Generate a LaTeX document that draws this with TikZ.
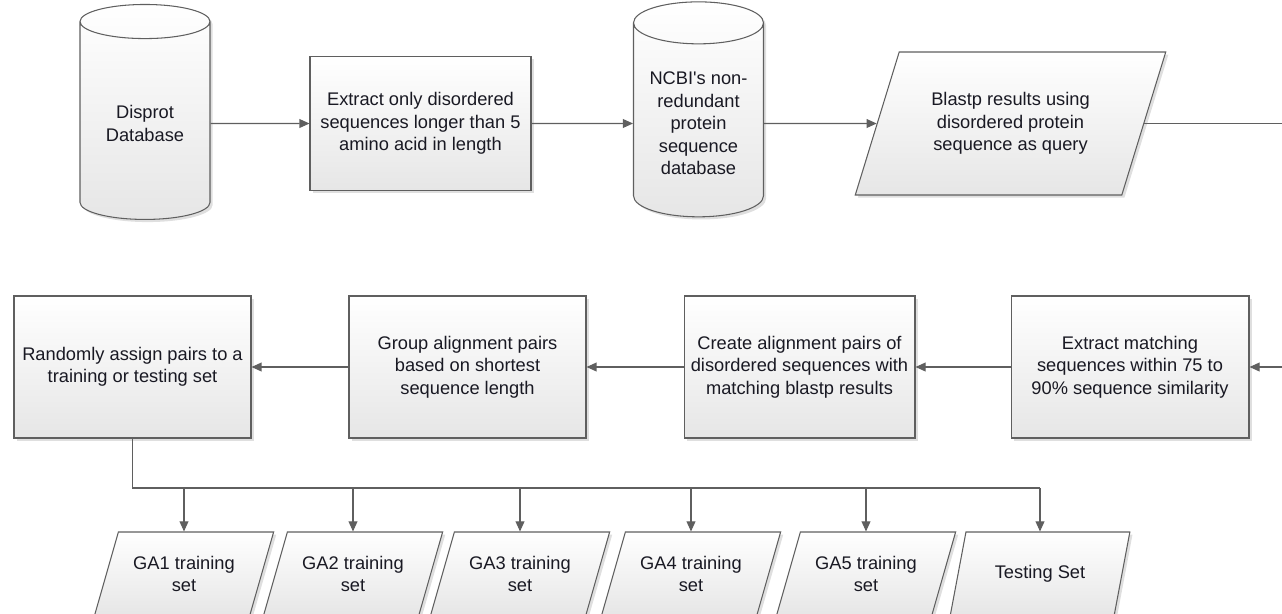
\documentclass[tikz,border=0pt]{standalone}
\usepackage{xcolor}
\usepackage{tikz}
\usepackage{fontspec}
\setmainfont{Liberation Sans}
\usetikzlibrary{shapes.geometric, arrows.meta, positioning, shadows}
\definecolor{edgegray}{RGB}{95, 95, 95}
\definecolor{fillgray}{RGB}{230, 230, 230}
\definecolor{inkdark}{RGB}{25, 25, 35}

\begin{document}
\begin{tikzpicture}[
    x=0.02cm, y=-0.02cm,
    every node/.style={font=\fontsize{10.4}{12.8}\selectfont, text=inkdark, align=center},
    process/.style={rectangle, draw=edgegray, line width=0.6pt, top color=white, bottom color=fillgray, drop shadow={shadow xshift=1.5pt, shadow yshift=-1.5pt, opacity=0.25}, minimum height=2.84cm, inner sep=2pt},
    database/.style={cylinder, shape border rotate=90, aspect=0.4, draw=edgegray, line width=0.6pt, top color=white, bottom color=fillgray, drop shadow={shadow xshift=1.5pt, shadow yshift=-1.5pt, opacity=0.25}, minimum width=2.6cm, minimum height=4.3cm, inner sep=2pt},
    dataio/.style={trapezium, trapezium left angle=64, trapezium right angle=116, trapezium stretches=true, draw=edgegray, line width=0.6pt, top color=white, bottom color=fillgray, drop shadow={shadow xshift=1.5pt, shadow yshift=-1.5pt, opacity=0.25}, inner sep=1pt},
    flow/.style={draw=edgegray, line width=0.6pt, -{Triangle[length=5.7pt, width=5pt]}},
    joinline/.style={draw=edgegray, line width=0.6pt}
]
    \clip (0, 0) rectangle (1282, 613);

    % Top row
    \node[database] (disprot) at (145, 123.5) {Disprot\\Database};
    \node[process, minimum width=4.42cm, minimum height=2.68cm] (extract) at (420.5, 123.5) {Extract only disordered\\sequences longer than 5\\amino acid in length};
    \node[database] (ncbi) at (698.5, 123.5) {NCBI\textquotesingle s non-\\redundant\\protein\\sequence\\database};
    \node[dataio, minimum width=6.22cm, minimum height=2.86cm] (blastp) at (1010.5, 123.5) {Blastp results using\\disordered protein\\sequence as query};
    \coordinate (toprightedge) at (1282, 123.5);

    % Second row, right to left
    \node[process, minimum width=4.76cm] (extractmatch) at (1130, 367) {Extract matching\\sequences within 75 to\\90\% sequence similarity};
    \node[process, minimum width=4.62cm] (pairs) at (799.5, 367) {Create alignment pairs of\\disordered sequences with\\matching blastp results};
    \node[process, minimum width=4.74cm] (group) at (467.5, 367) {Group alignment pairs\\based on shortest\\sequence length};
    \node[process, minimum width=4.74cm] (assign) at (132.5, 367) {Randomly assign pairs to a\\training or testing set};
    \coordinate (midrightedge) at (1282, 367);

    % Output sets
    \node[dataio, minimum width=3.6cm, minimum height=1.68cm] (ga1) at (184, 574) {GA1 training\\set};
    \node[dataio, minimum width=3.6cm, minimum height=1.68cm] (ga2) at (353, 574) {GA2 training\\set};
    \node[dataio, minimum width=3.6cm, minimum height=1.68cm] (ga3) at (520, 574) {GA3 training\\set};
    \node[dataio, minimum width=3.6cm, minimum height=1.68cm] (ga4) at (691, 574) {GA4 training\\set};
    \node[dataio, minimum width=3.6cm, minimum height=1.68cm] (ga5) at (866, 574) {GA5 training\\set};
    \node[dataio, minimum width=3.6cm, minimum height=1.68cm] (testset) at (1040, 574) {Testing Set};
    \coordinate (bus) at (132.5, 488);

    % Connectors
    \draw[flow] (disprot) -- (extract);
    \draw[flow] (extract) -- (ncbi);
    \draw[flow] (ncbi) -- (blastp.left side);
    \draw[joinline] (blastp.right side) -- (toprightedge);
    \draw[flow] (midrightedge) -- (extractmatch);
    \draw[flow] (extractmatch) -- (pairs);
    \draw[flow] (pairs) -- (group);
    \draw[flow] (group) -- (assign);
    \draw[joinline] (assign.south) -- (bus) -- (bus -| testset.center);
    \draw[flow] (bus -| ga1.center) -- (ga1.center |- ga1.north);
    \draw[flow] (bus -| ga2.center) -- (ga2.center |- ga2.north);
    \draw[flow] (bus -| ga3.center) -- (ga3.center |- ga3.north);
    \draw[flow] (bus -| ga4.center) -- (ga4.center |- ga4.north);
    \draw[flow] (bus -| ga5.center) -- (ga5.center |- ga5.north);
    \draw[flow] (bus -| testset.center) -- (testset.center |- testset.north);
\end{tikzpicture}
\end{document}
